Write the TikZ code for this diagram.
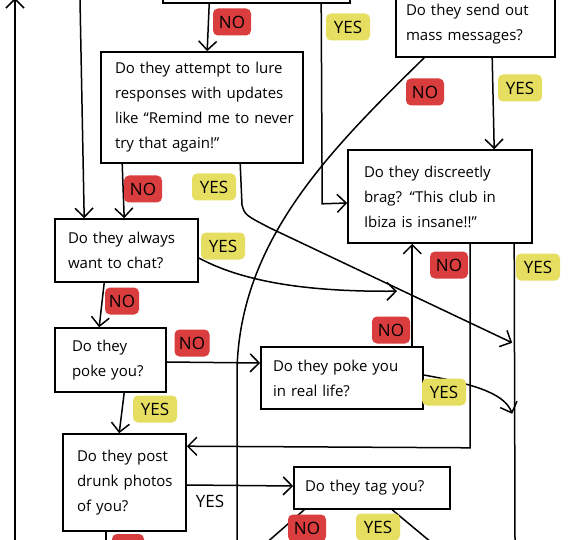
\documentclass[tikz,border=0pt]{standalone}
\usepackage{fontspec}
\setmainfont{Open Sans}
\usetikzlibrary{arrows.meta,calc}
\definecolor{nored}{HTML}{D93D3D}
\definecolor{yesyel}{HTML}{E6DE60}
\begin{document}
\begin{tikzpicture}[x=1pt,y=-1pt,
  qbox/.style={draw, line width=1.6pt, align=left, inner sep=0pt,
    font=\fontsize{15}{25}\selectfont},
  ln/.style={line width=1.5pt},
  conn/.style={line width=1.5pt, -{Straight Barb[length=9pt,width=18pt]}},
  lab/.style={rounded corners=5pt, inner sep=0pt, minimum height=27pt,
    font=\fontsize{17}{17}\selectfont},
  nolab/.style={lab, fill=nored, minimum width=38pt},
  yeslab/.style={lab, fill=yesyel, minimum width=44pt}]
\useasboundingbox (0,0) rectangle (570,540);
\fill[white] (0,0) rectangle (570,540);
\clip (0,0) rectangle (570,540);

% boxes
\node[qbox, minimum width=187pt, minimum height=43pt] (top) at (256.5,-18.5) {};
\node[qbox, minimum width=159pt, minimum height=65pt, text width=139pt] (mass) at (475.5,24.5)
  {\mbox{Do they send out}\\\mbox{mass messages?}};
\node[qbox, minimum width=202pt, minimum height=111pt, text width=174pt] (lure) at (202,107.5)
  {\mbox{Do they attempt to lure}\\\mbox{responses with updates}\\\mbox{like ``Remind me to never}\\\mbox{try that again!''}};
\node[qbox, minimum width=184pt, minimum height=93pt, text width=152pt] (brag) at (440,196.5)
  {\mbox{Do they discreetly}\\\mbox{brag? ``This club in}\\\mbox{Ibiza is insane!!''}};
\node[qbox, minimum width=143pt, minimum height=63pt, text width=117pt] (always) at (126.5,250.5)
  {\mbox{Do they always}\\\mbox{want to chat?}};
\node[qbox, minimum width=111pt, minimum height=64pt, text width=77pt] (poke) at (110.5,360)
  {\mbox{Do they}\\\mbox{poke you?}};
\node[qbox, minimum width=162pt, minimum height=62pt, text width=138pt] (real) at (342,378)
  {\mbox{Do they poke you}\\\mbox{in real life?}};
\node[qbox, minimum width=123pt, minimum height=97pt, text width=95pt] (drunk) at (124.5,482.5)
  {\mbox{Do they post}\\\mbox{drunk photos}\\\mbox{of you?}};
\node[qbox, minimum width=156pt, minimum height=42pt, text width=134pt] (tag) at (372,488)
  {\mbox{Do they tag you?}};

% free ends
\coordinate (lefttop) at (80,0);
\coordinate (leftbot) at (15,540);
\coordinate (lefttip) at (15,-2);
\coordinate (massnoend) at (237,540);
\coordinate (bragyesend) at (515,540);

% connectors
\draw[conn] ($(top.south west)+(47,0)$) -- ($(lure.north west)+(107,0)$);
\draw[conn] ($(top.south west)+(159,0)$) -- ($(top.south west)+(160,200)$) -- ($(brag.west)+(0,6.5)$);
\draw[ln] ($(mass.south west)+(29,0)$) .. controls (330,150) and (240,240) .. (237,370) -- (massnoend);
\draw[conn] ($(mass.south west)+(97,0)$) -- ($(brag.north west)+(147,0)$);
\draw[conn] ($(lure.south west)+(22,0)$) -- ($(always.north west)+(70,0)$);
\draw[conn] (lefttop) -- ($(always.north west)+(30,0)$);
\draw[conn] ($(lure.south west)+(140,0)$) -- (242,205) .. controls (245,215) .. (270,228) -- ($(brag.south west)+(165,99)$);
\draw[conn] ($(always.east)+(0,7.5)$) .. controls (240,280) and (300,292) .. ($(real.north)+(55,-55)$);
\draw[conn] ($(real.north west)+(152,0)$) -- ($(brag.south west)+(65,0)$);
\draw[conn] ($(brag.south west)+(123,0)$) -- ++(0,204) -- ($(drunk.north east)+(0,13)$);
\draw[ln] ($(brag.south west)+(167,0)$) -- (bragyesend);
\draw[conn] ($(always.south west)+(50,0)$) -- ($(poke.north west)+(45,0)$);
\draw[conn] ($(poke.east)+(0,2)$) -- ($(real.west)+(0,-15)$);
\draw[conn] ($(real.east)+(0,-3)$) .. controls (480,385) and (505,395) .. ($(brag.south west)+(165,170)$);
\draw[conn] ($(poke.south west)+(70,0)$) -- ($(drunk.north west)+(57,0)$);
\draw[conn] ($(drunk.east)+(0,2.5)$) -- ($(tag.west)+(0,-2)$);
\draw[ln] ($(drunk.south west)+(44,0)$) -- ++(0,15);
\draw[ln] ($(tag.south west)+(11,0)$) -- ++(-40,35);
\draw[ln] ($(tag.south west)+(99,0)$) -- ++(42,35);
\draw[conn] (leftbot) -- (lefttip);

% labels
\node[nolab] (n1) at (232,22) {NO};
\node[yeslab] (y1) at (348,27) {YES};
\node[nolab] (n2) at (425,92) {NO};
\node[yeslab] (y2) at (520,88) {YES};
\node[nolab] (n3) at (143,189) {NO};
\node[yeslab] (y3) at (214,187) {YES};
\node[yeslab] (y4) at (223,246) {YES};
\node[nolab] (n4) at (449,265) {NO};
\node[yeslab] (y5) at (538,267) {YES};
\node[nolab, minimum width=34pt] (n5) at (122,301) {NO};
\node[nolab] (n6) at (391,330) {NO};
\node[nolab, minimum width=35pt] (n7) at (192,343) {NO};
\node[yeslab] (y6) at (155,409) {YES};
\node[yeslab] (y7) at (444,392) {YES};
\node[lab] (y8) at (210,501) {YES};
\node[nolab, minimum width=32pt, minimum height=28pt] (n8) at (128,548) {};
\node[nolab] (n9) at (307,528) {NO};
\node[yeslab] (y9) at (378,527) {YES};
\end{tikzpicture}
\end{document}
